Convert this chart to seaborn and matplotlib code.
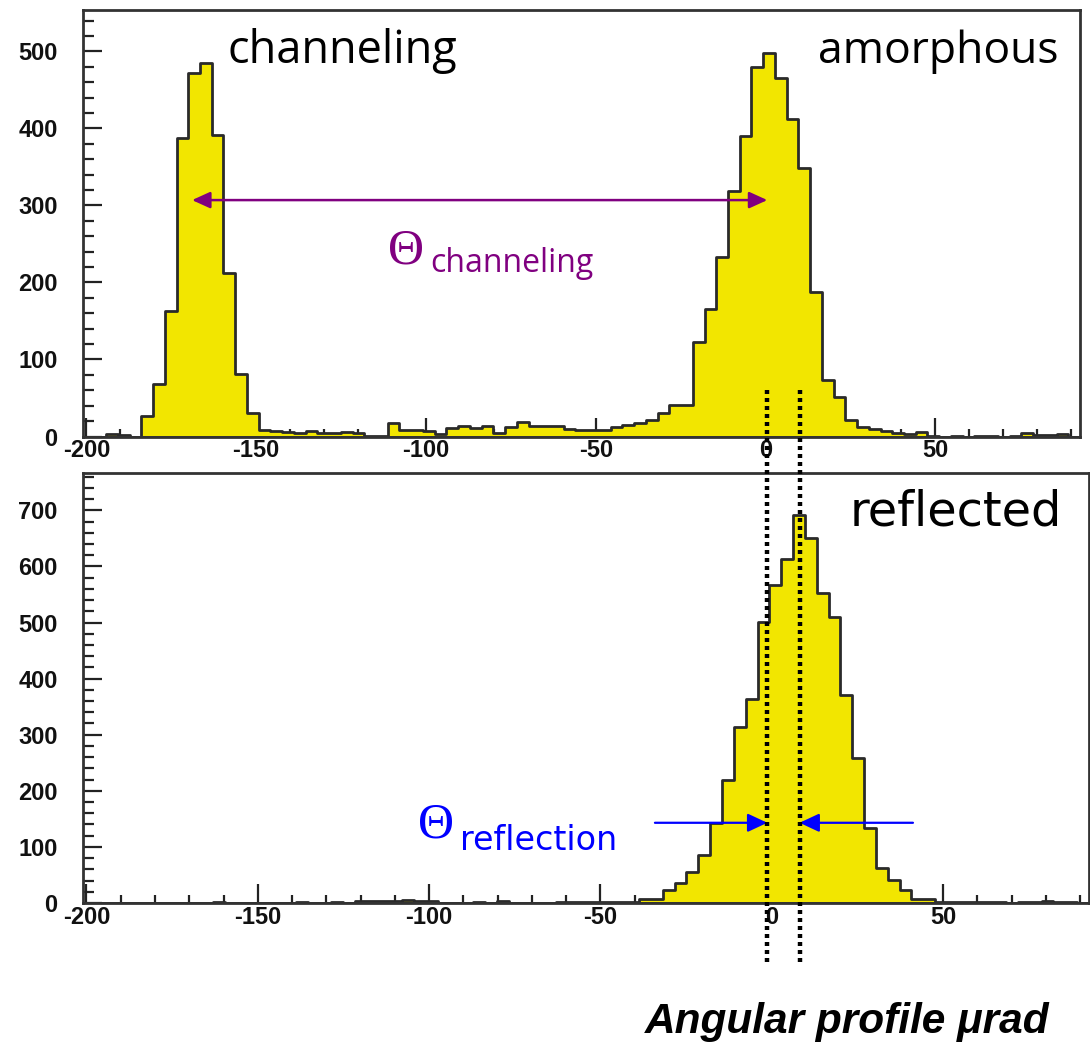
import numpy as np
import pandas as pd
import matplotlib
matplotlib.use("Agg")
import matplotlib.pyplot as plt
import seaborn as sns
from matplotlib.lines import Line2D
from matplotlib.ticker import MultipleLocator, FixedLocator
from matplotlib.transforms import blended_transform_factory

# Angular binning (µrad)
bin_low = -201.1
bin_width = 3.455
n_bins = 85

# Counts per bin: amorphous orientation + channeling peak
amorphous_counts = [
    0, 0, 3, 2, 0, 27, 68, 163, 388, 472,
    485, 392, 212, 81, 30, 9, 7, 6, 5, 7,
    5, 4, 6, 4, 1, 1, 17, 8, 8, 7,
    3, 11, 13, 11, 13, 4, 12, 19, 13, 14,
    13, 10, 8, 8, 9, 12, 15, 18, 21, 30,
    41, 41, 123, 166, 233, 319, 390, 480, 498, 466,
    412, 349, 188, 73, 51, 21, 12, 10, 7, 4,
    3, 6, 1, 0, 1, 0, 1, 1, 0, 1,
    5, 2, 2, 3, 0,
]

# Counts per bin: volume reflection orientation
reflected_counts = [
    0, 0, 0, 0, 0, 0, 0, 0, 0, 0,
    0, 2, 0, 0, 0, 0, 0, 0, 2, 0,
    0, 2, 0, 4, 4, 4, 4, 6, 4, 4,
    0, 0, 0, 2, 0, 3, 0, 0, 0, 0,
    2, 2, 1, 1, 1, 2, 2, 8, 8, 23,
    36, 55, 86, 143, 220, 313, 363, 501, 567, 613,
    692, 650, 552, 509, 371, 258, 133, 62, 41, 23,
    8, 7, 1, 2, 1, 2, 2, 1, 0, 1,
    2, 3, 2, 1, 0,
]

x_ticks = [-200, -150, -100, -50, 0, 50]
y_ticks_top = [0, 100, 200, 300, 400, 500]
y_ticks_bottom = [0, 100, 200, 300, 400, 500, 600, 700]

# Annotation anchors (µrad, counts)
amorphous_center = -1.3
reflected_center = 8.1
channeling_center = -168.9
channeling_arrow_y = 307
reflection_arrow_y = 143

edges = [bin_low + bin_width * i for i in range(n_bins + 1)]
centers = [0.5 * (a + b) for a, b in zip(edges[:-1], edges[1:])]
x_limits = (edges[0], edges[-1])

df_top = pd.DataFrame({"angle": centers, "counts": amorphous_counts})
df_bot = pd.DataFrame({"angle": centers, "counts": reflected_counts})

sns.set_theme(style="white")
plt.rcParams["font.family"] = ["DejaVu Sans"]

W, H = 1090, 1042
fig = plt.figure(figsize=(W / 100, H / 100), dpi=100)
fig.patch.set_facecolor("white")

ax1 = fig.add_axes([82.7 / W, 1 - 436.5 / H, (1080 - 82.7) / W, (436.5 - 9.5) / H])
ax2 = fig.add_axes([82.7 / W, 1 - 903 / H, (1089 - 82.7) / W, (903 - 472.5) / H])

yellow = "#F2E600"
edge = "#2a2a2a"

for ax, df, ymax, yt in [
    (ax1, df_top, 554.5, y_ticks_top),
    (ax2, df_bot, 767.4, y_ticks_bottom),
]:
    sns.histplot(
        data=df, x="angle", weights="counts", bins=edges,
        element="step", fill=True, color=yellow, alpha=1,
        edgecolor=edge, linewidth=2.0, ax=ax,
    )
    ax.set_xlim(*x_limits)
    ax.set_ylim(0, ymax)
    ax.set_xlabel("")
    ax.set_ylabel("")
    ax.set_facecolor("white")
    for sp in ax.spines.values():
        sp.set_visible(True)
        sp.set_linewidth(2.0)
        sp.set_color("#333333")
    ax.xaxis.set_major_locator(FixedLocator(x_ticks))
    ax.xaxis.set_minor_locator(MultipleLocator(10))
    ax.yaxis.set_major_locator(FixedLocator(yt))
    ax.yaxis.set_minor_locator(MultipleLocator(20))
    ax.set_xticklabels([str(v) for v in x_ticks])
    ax.set_yticklabels([str(v) for v in yt])
    ax.tick_params(axis="both", which="both", direction="in", color="#222222",
                   width=1.6, top=False, right=False, left=True, bottom=True)
    ax.tick_params(axis="x", which="major", length=14, pad=2)
    ax.tick_params(axis="x", which="minor", length=5.5)
    ax.tick_params(axis="y", which="major", length=14, pad=18)
    ax.tick_params(axis="y", which="minor", length=8)
    for lab in ax.get_xticklabels() + ax.get_yticklabels():
        lab.set_fontweight("bold")
        lab.set_fontsize(17)
        lab.set_family(["Liberation Sans", "DejaVu Sans"])
        lab.set_color("#111111")

comic_like = ["Open Sans", "DejaVu Sans"]
verdana_like = ["DejaVu Sans"]

# Peak names
fig.text(228 / W, 1 - 63 / H, "channeling", fontsize=32.5, family=comic_like,
         ha="left", va="baseline", color="black")
fig.text(818 / W, 1 - 63 / H, "amorphous", fontsize=32, family=comic_like,
         ha="left", va="baseline", color="black")
fig.text(850 / W, 1 - 526 / H, "reflected", fontsize=34.5, family=verdana_like,
         ha="left", va="baseline", color="black")

# Channeling deflection angle
purple = "#800080"
ax1.annotate("", xy=(channeling_center, channeling_arrow_y),
             xytext=(amorphous_center + 1.8, channeling_arrow_y),
             arrowprops=dict(arrowstyle="<|-|>,head_length=0.55,head_width=0.25",
                             color=purple, lw=1.8, shrinkA=0, shrinkB=0,
                             mutation_scale=20))
fig.text(388 / W, 1 - 263 / H, "\u0398", fontsize=36, color=purple,
         family=["Liberation Serif", "DejaVu Serif"], ha="left", va="baseline")
fig.text(430 / W, 1 - 272 / H, "channeling", fontsize=23, color=purple,
         family=comic_like, ha="left", va="baseline")

# Reference lines for the two peak positions
trans = blended_transform_factory(ax2.transData, fig.transFigure)
for xv in (amorphous_center, reflected_center):
    fig.add_artist(Line2D([xv, xv], [1 - 390 / H, 1 - 965 / H], transform=trans,
                          color="black", lw=3.2, linestyle=(0, (0.9, 0.9)),
                          clip_on=False, zorder=10))

# Reflection angle arrows
blue = "#0000FF"
ax2.annotate("", xy=(amorphous_center, reflection_arrow_y),
             xytext=(-34.1, reflection_arrow_y),
             arrowprops=dict(arrowstyle="-|>,head_length=0.6,head_width=0.28",
                             color=blue, lw=1.6, shrinkA=0, shrinkB=0,
                             mutation_scale=20))
ax2.annotate("", xy=(reflected_center, reflection_arrow_y),
             xytext=(41.2, reflection_arrow_y),
             arrowprops=dict(arrowstyle="-|>,head_length=0.6,head_width=0.28",
                             color=blue, lw=1.6, shrinkA=0, shrinkB=0,
                             mutation_scale=20))
fig.text(418 / W, 1 - 838 / H, "\u0398", fontsize=36, color=blue,
         family=["Liberation Serif", "DejaVu Serif"], ha="left", va="baseline")
fig.text(460 / W, 1 - 850 / H, "reflection", fontsize=24, color=blue,
         family=verdana_like, ha="left", va="baseline")

# Axis title
fig.text(1050 / W, 1 - 1033 / H, "Angular profile \u03bcrad", fontsize=30.5,
         fontweight="bold", fontstyle="italic",
         family=["Liberation Sans", "DejaVu Sans"], ha="right", va="baseline",
         color="black")

fig.savefig("out.png", dpi=100, facecolor="white")
